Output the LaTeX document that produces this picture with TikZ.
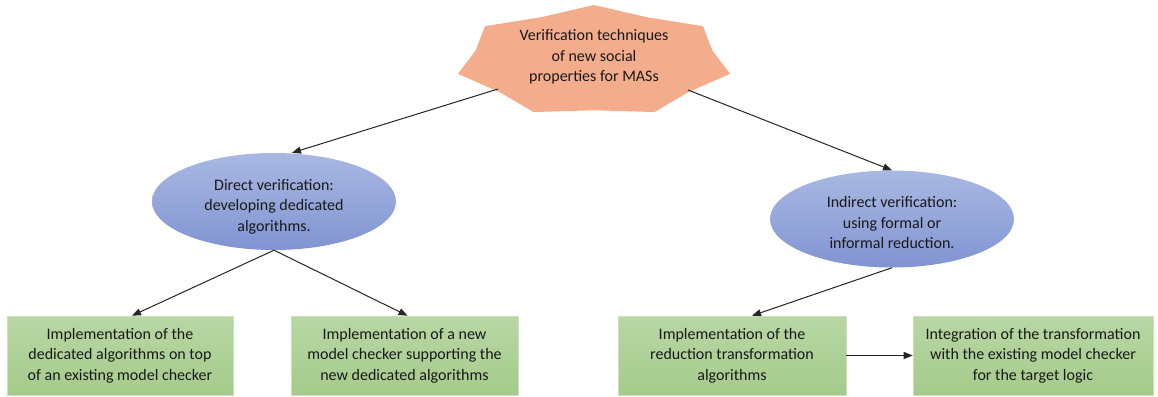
\documentclass[tikz,border=0pt]{standalone}
\usepackage{fontspec}
\setmainfont{Carlito}
\usetikzlibrary{arrows.meta,shapes.geometric}
\definecolor{starfill}{HTML}{F3AD8C}
\definecolor{ovaltop}{HTML}{A9B8E2}
\definecolor{ovalbot}{HTML}{8194D2}
\definecolor{boxtop}{HTML}{B8D7A4}
\definecolor{boxbot}{HTML}{A5CB8B}
\definecolor{boxedge}{HTML}{C9E0BA}
\tikzset{
  txt/.style={align=center, font=\fontsize{16}{20.5}\selectfont, text=black!90},
  oval/.style={ellipse, inner sep=0pt, minimum width=244pt, minimum height=97pt,
               top color=ovaltop, bottom color=ovalbot},
  greenbox/.style={txt, rectangle, inner sep=0pt, minimum height=79pt,
               top color=boxtop, bottom color=boxbot, draw=boxedge, line width=0.6pt},
  link/.style={draw=black!85, line width=1pt, -{Triangle[length=9pt,width=7pt]}}
}
\begin{document}
\begin{tikzpicture}[x=1pt,y=-1pt]
\useasboundingbox (0,0) rectangle (1158,396);
\fill[white] (0,0) rectangle (1158,396);

% seven-pointed star, stretched horizontally
\fill[starfill] ({594+139.5*cos(90)},{61.3-56.3*sin(90)})
  \foreach \k in {0,...,6} {
    -- ({594+0.87*139.5*cos(90-(\k+0.5)*360/7)},{61.3-0.87*56.3*sin(90-(\k+0.5)*360/7)})
    -- ({594+139.5*cos(90-(\k+1)*360/7)},{61.3-56.3*sin(90-(\k+1)*360/7)})
  } -- cycle;
\node[txt] (star) at (594,57) {Verification techniques\\of new social\\properties for MASs};
\coordinate (sl) at (498,89);
\coordinate (sr) at (688,90);

% the two verification approaches
\node[oval] (le) at (274,201.5) {};
\node[txt, yshift=-5pt] (lt) at (le) {Direct verification:\\developing dedicated\\algorithms.};
\node[oval] (re) at (892,219) {};
\node[txt, yshift=-4pt] (rt) at (re) {Indirect verification:\\using formal or\\informal reduction.};

% implementation steps
\node[greenbox, minimum width=226pt] (b1) at (120,355.5)
  {Implementation of the\\dedicated algorithms on top\\of an existing model checker};
\node[greenbox, minimum width=227pt] (b2) at (404.5,355.5)
  {Implementation of a new\\model checker supporting the\\new dedicated algorithms};
\node[greenbox, minimum width=228pt] (b3) at (732,355.5)
  {Implementation of the\\reduction transformation\\algorithms};
\node[greenbox, minimum width=240pt] (b4) at (1033,355.5)
  {Integration of the transformation\\with the existing model checker\\for the target logic};

% connectors
\draw[link] (sl) -- ([xshift=18pt]le.north);
\draw[link] (sr) -- (re.north);
\draw[link] (le.south) -- ([xshift=12pt]b1.north);
\draw[link] (le.south) -- ([xshift=3pt]b2.north);
\draw[link] (re.south) -- ([xshift=20pt]b3.north);
\draw[link] (b3.east) -- (b4.west);
\end{tikzpicture}
\end{document}
